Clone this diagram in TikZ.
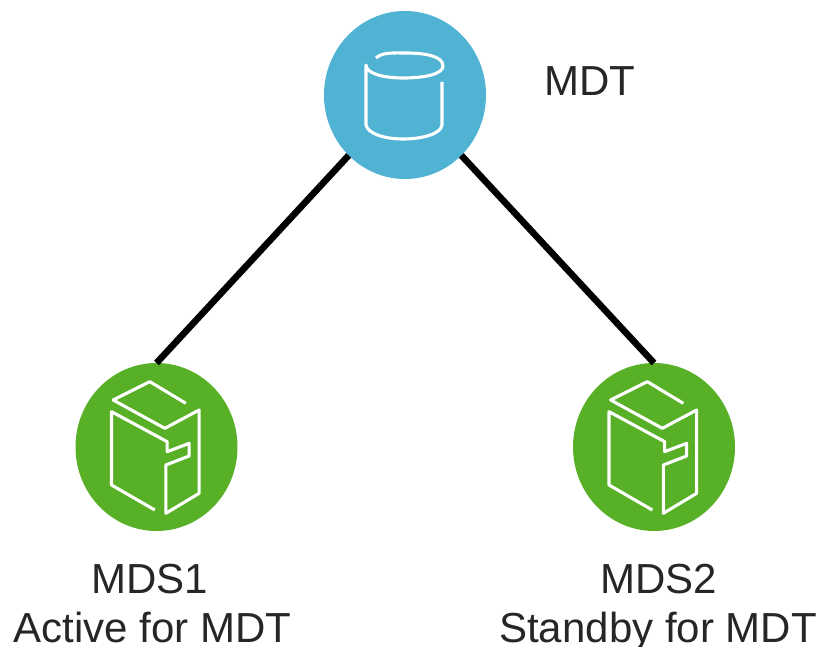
\documentclass[tikz,border=0pt]{standalone}
\usepackage{fontspec}
\setmainfont{Liberation Sans}
\usetikzlibrary{shapes.geometric}
\definecolor{mdtblue}{HTML}{50B3D4}
\definecolor{mdsgreen}{HTML}{57B025}
\tikzset{
  x=1pt,y=-1pt,
  disk/.style={ellipse,inner sep=0pt,outer sep=0pt,minimum width=162pt,minimum height=168pt,fill=#1},
  link/.style={line width=6.6pt,black},
  label/.style={anchor=base,font=\fontsize{42pt}{46pt}\selectfont,text=black!85,inner sep=0pt},
  icon/.style={draw=white,line width=3.1pt,line join=round,fill=none},
  server/.pic={
    \draw[icon,x=0.3333pt,y=-0.3333pt] (88,-131) -- (-20,-196) -- (-130,-141) -- (25,-56) -- (128,-111) -- (128,139) -- (28,199) -- (28,54) -- (98,27) -- (98,-11) -- (32,14) -- (32,-16) -- (-135,-106) -- (-135,114) -- (-5,189);
  }
}
\begin{document}
\begin{tikzpicture}
\useasboundingbox (0,0) rectangle (820,647);
\node[disk=mdtblue] (mdt) at (405,95) {};
\node[disk=mdsgreen] (mds1) at (156.5,447) {};
\node[disk=mdsgreen] (mds2) at (654,447) {};
\draw[link] (mdt.227) -- (mds1.north);
\draw[link] (mdt.-47) -- (mds2.north);
% cylinder icon
\draw[icon] (376,58) .. controls (382,52) and (395,53) .. (405,53) .. controls (425,53) and (443,56) .. (443,66) .. controls (443,74) and (425,78) .. (403,78) .. controls (385,78) and (366,74) .. (366,65) -- (366,125) .. controls (368,134) and (385,139) .. (403,139) .. controls (422,139) and (441,134) .. (442,125) -- (442,82);
\pic at (156.5,447) {server};
\pic at (654,447) {server};
\node[label] (tmdt) at (590,96) {MDT};
\node[label] (t1a) at (150,593) {MDS1};
\node[label] (t1b) at (152.5,642) {Active for MDT};
\node[label] (t2a) at (659,593) {MDS2};
\node[label] (t2b) at (658,642) {Standby for MDT};
\end{tikzpicture}
\end{document}
